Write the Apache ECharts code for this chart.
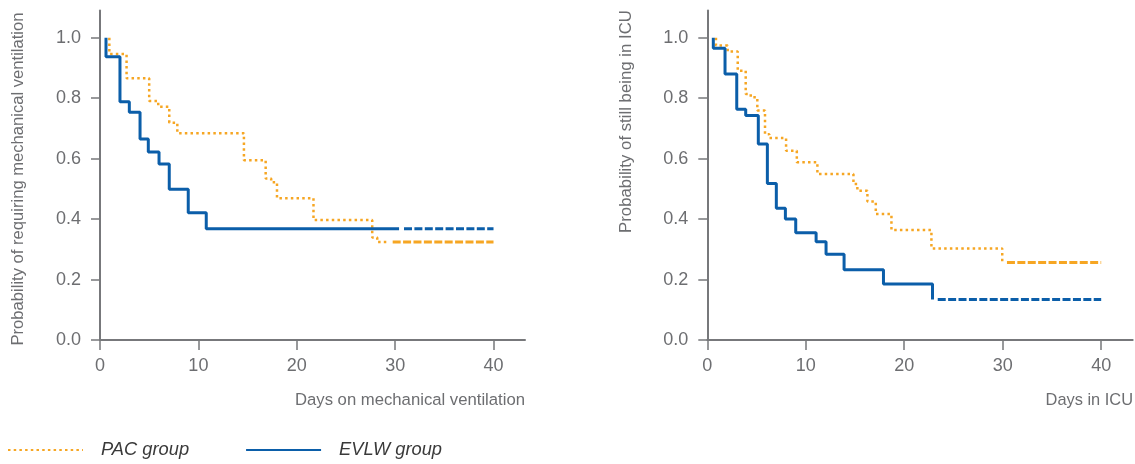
<!DOCTYPE html>
<html>
<head>
<meta charset="utf-8">
<title>Kaplan-Meier</title>
<style>
html, body {
	margin: 0;
	padding: 0;
	background: #fff;
}
#km_chart {
	width: 1135px;
	height: 464px;
}
</style>
</head>
<body>
	<div id="km_chart"></div>
	<script src="https://cdn.jsdelivr.net/npm/echarts@6/dist/echarts.min.js"></script>
	<script type="text/javascript">
		// tick labels
		var xTicks = [0, 10, 20, 30, 40];
		var yTicks = [0, 0.2, 0.4, 0.6, 0.8, 1.0];

		// left panel: mechanical ventilation
		var leftPacDays = [0.95, 0.95, 2.7, 5.0, 5.92, 7.04, 7.86, 14.63, 16.84, 17.4, 17.99, 21.7, 27.67, 28.18, 29.2];
		var leftPacProb = [1.0, 0.946, 0.866, 0.791, 0.772, 0.719, 0.684, 0.595, 0.534, 0.522, 0.469, 0.397, 0.339, 0.324, 0.324];
		var leftPacTailDays = [29.75, 40];
		var leftPacTailProb = [0.324, 0.324];

		var leftEvlwDays = [0.61, 0.61, 2.03, 2.98, 4.07, 4.91, 6.0, 7.04, 8.97, 10.8, 30.4];
		var leftEvlwProb = [1.0, 0.937, 0.788, 0.753, 0.665, 0.622, 0.582, 0.499, 0.421, 0.368, 0.368];
		var leftEvlwTailDays = [30.9, 40];
		var leftEvlwTailProb = [0.368, 0.368];

		// right panel: ICU stay
		var rightPacDays = [0.88, 0.88, 2.07, 3.09, 3.9, 4.41, 5.08, 5.86, 6.3, 8.0, 9.09, 11.18, 14.84, 15.24, 16.26, 17.11, 18.7, 22.76, 29.95];
		var rightPacProb = [1.0, 0.974, 0.954, 0.891, 0.814, 0.803, 0.759, 0.681, 0.668, 0.626, 0.588, 0.549, 0.516, 0.494, 0.458, 0.417, 0.364, 0.303, 0.256];
		var rightPacTailDays = [30.43, 40];
		var rightPacTailProb = [0.256, 0.256];

		var rightEvlwDays = [0.61, 0.61, 1.8, 2.99, 3.9, 5.18, 6.1, 7.01, 7.93, 8.98, 11.05, 12.06, 13.89, 17.89, 22.87];
		var rightEvlwProb = [1.0, 0.965, 0.880, 0.763, 0.743, 0.648, 0.518, 0.436, 0.400, 0.355, 0.325, 0.284, 0.232, 0.185, 0.134];
		var rightEvlwTailDays = [23.4, 40];
		var rightEvlwTailProb = [0.134, 0.134];

		var colors = ['#f6a623', '#0b5ea9'];
		var axisColor = '#77787b';
		var labelColor = '#6d6e71';
		var fontFamily = '"Liberation Sans", Arial, Helvetica, sans-serif';

		function zip(xs, ys) {
			return xs.map(function (x, i) { return [x, ys[i]]; });
		}

		function xAxisFor(gridIndex) {
			return {
				type: 'value',
				gridIndex: gridIndex,
				min: 0,
				max: 43.2,
				splitLine: { show: false },
				axisLine: { onZero: false, lineStyle: { color: axisColor, width: 2 } },
				axisTick: { customValues: xTicks, length: 10, lineStyle: { color: axisColor, width: 1.5 } },
				axisLabel: {
					customValues: xTicks,
					margin: 17,
					color: labelColor,
					fontSize: 18,
					fontFamily: fontFamily
				}
			};
		}

		function yAxisFor(gridIndex) {
			return {
				type: 'value',
				gridIndex: gridIndex,
				min: 0,
				max: 1.09,
				splitLine: { show: false },
				axisLine: { lineStyle: { color: axisColor, width: 2 } },
				axisTick: { customValues: yTicks, length: 9, lineStyle: { color: axisColor, width: 1.5 } },
				axisLabel: {
					customValues: yTicks,
					margin: 19,
					color: labelColor,
					fontSize: 18,
					fontFamily: fontFamily,
					formatter: function (v) { return v.toFixed(1); }
				}
			};
		}

		function stepSeries(name, idx, data, color, lineType, width) {
			return {
				name: name,
				type: 'line',
				step: 'end',
				xAxisIndex: idx,
				yAxisIndex: idx,
				symbol: 'none',
				silent: true,
				animation: false,
				data: data,
				lineStyle: { color: color, width: width, type: lineType },
				itemStyle: { color: color }
			};
		}

		var pacDot = [2.5, 3.2];
		var dash = [8, 2.4];

		var option = {
			animation: false,
			grid: [
				{ left: 100, top: 10.5, width: 425, height: 329.5 },
				{ left: 707.3, top: 10.5, width: 425.4, height: 329.5 }
			],
			xAxis: [xAxisFor(0), xAxisFor(1)],
			yAxis: [yAxisFor(0), yAxisFor(1)],
			legend: {
				left: 7,
				top: 441,
				padding: 0,
				itemWidth: 75,
				itemHeight: 18,
				itemGap: 56,
				selectedMode: false,
				itemStyle: { opacity: 0 },
				data: ['PAC group', 'EVLW group'],
				textStyle: {
					color: '#3a3a3a',
					fontSize: 18.3,
					fontStyle: 'italic',
					fontFamily: fontFamily,
					padding: [4, 0, 0, 13]
				}
			},
			graphic: [
				{
					type: 'text', x: 18, y: 179, rotation: Math.PI / 2,
					style: { text: 'Probability of requiring mechanical ventilation', align: 'center', verticalAlign: 'middle', fill: labelColor, font: '16.6px ' + fontFamily }
				},
				{
					type: 'text', x: 626, y: 121.5, rotation: Math.PI / 2,
					style: { text: 'Probability of still being in ICU', align: 'center', verticalAlign: 'middle', fill: labelColor, font: '16.8px ' + fontFamily }
				},
				{
					type: 'text', x: 525, y: 400,
					style: { text: 'Days on mechanical ventilation', align: 'right', verticalAlign: 'middle', fill: labelColor, font: '16.7px ' + fontFamily }
				},
				{
					type: 'text', x: 1133, y: 400,
					style: { text: 'Days in ICU', align: 'right', verticalAlign: 'middle', fill: labelColor, font: '16.4px ' + fontFamily }
				}
			],
			series: [
				stepSeries('PAC group', 0, zip(leftPacDays, leftPacProb), colors[0], pacDot, 2.5),
				stepSeries('PAC tail', 0, zip(leftPacTailDays, leftPacTailProb), colors[0], dash, 3),
				stepSeries('EVLW group', 0, zip(leftEvlwDays, leftEvlwProb), colors[1], 'solid', 3),
				stepSeries('EVLW tail', 0, zip(leftEvlwTailDays, leftEvlwTailProb), colors[1], dash, 3),
				stepSeries('PAC group', 1, zip(rightPacDays, rightPacProb), colors[0], pacDot, 2.5),
				stepSeries('PAC tail', 1, zip(rightPacTailDays, rightPacTailProb), colors[0], dash, 3),
				stepSeries('EVLW group', 1, zip(rightEvlwDays, rightEvlwProb), colors[1], 'solid', 3),
				stepSeries('EVLW tail', 1, zip(rightEvlwTailDays, rightEvlwTailProb), colors[1], dash, 3)
			]
		};

		var myChart = echarts.init(document.getElementById('km_chart'));
		myChart.setOption(option, true);
	</script>
</body>
</html>
